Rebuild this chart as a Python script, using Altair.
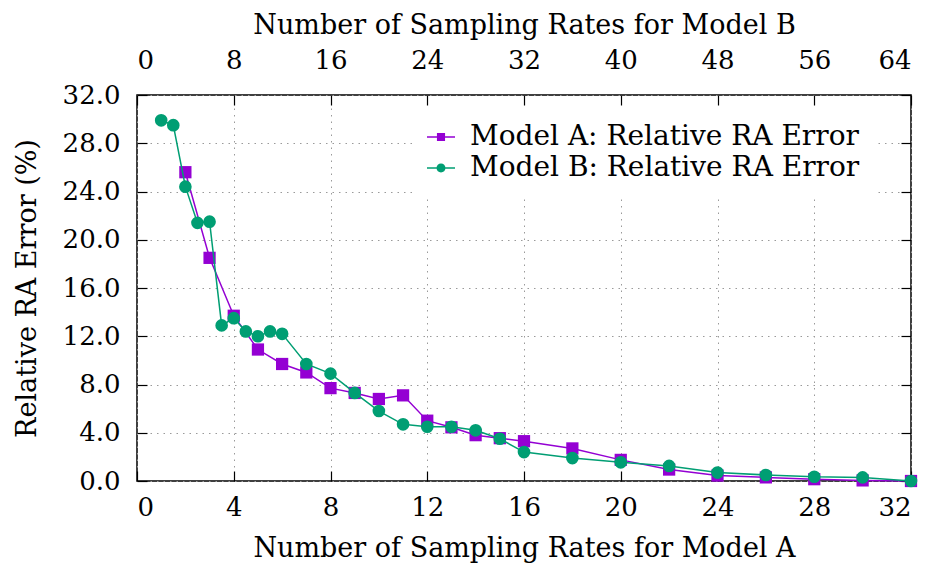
import altair as alt
import pandas as pd

# ---- data ----
a_rates = [2, 3, 4, 5, 6, 7, 8, 9, 10, 11, 12, 13, 14, 15, 16, 18, 20, 22, 24, 26, 28, 30, 32]
a_err = [25.6, 18.5, 13.7, 10.9, 9.7, 9.0, 7.7, 7.3, 6.8, 7.1, 5.0, 4.45, 3.8, 3.55, 3.3, 2.7,
         1.75, 0.95, 0.45, 0.3, 0.15, 0.05, 0.0]

b_rates = [2, 3, 4, 5, 6, 7, 8, 9, 10, 11, 12, 14, 16, 18, 20, 22, 24, 26, 28, 30, 32,
           36, 40, 44, 48, 52, 56, 60, 64]
b_err = [29.9, 29.5, 24.4, 21.4, 21.5, 12.9, 13.5, 12.4, 12.0, 12.4, 12.2, 9.7, 8.9, 7.3,
         5.8, 4.7, 4.5, 4.5, 4.2, 3.5, 2.4, 1.9, 1.55, 1.25, 0.7, 0.5, 0.35, 0.3, 0.0]

series_labels = ["Model A: Relative RA Error", "Model B: Relative RA Error"]
series_colors = ["#9400d3", "#009e73"]

x_a_ticks = list(range(0, 33, 4))
x_b_ticks = list(range(0, 65, 8))
y_ticks = list(range(0, 33, 4))

dfA = pd.DataFrame({"rate": a_rates, "err": a_err})
dfB = pd.DataFrame({"rate": b_rates, "err": b_err})
dfL = pd.DataFrame({"rate": [0, 0], "err": [0, 0], "series": series_labels})

FONT = "DejaVu Serif"
W, H = 774, 386
PURPLE, GREEN = series_colors

# legend symbols: a short line with the marker in the middle
SQ_PATH = "M-1,-0.055H1V0.055H-1Z M-0.29,-0.29H0.29V0.29H-0.29Z"
CI_PATH = ("M-1,-0.055H1V0.055H-1Z "
           "M-0.32,0A0.32,0.32 0 1,1 0.32,0A0.32,0.32 0 1,1 -0.32,0Z")

grid_kw = dict(grid=True, gridDash=[1.5, 5], gridColor="#9a9a9a", gridWidth=1)

xa = alt.X("rate:Q",
           scale=alt.Scale(domain=[0, 32], nice=False),
           axis=alt.Axis(orient="bottom", values=x_a_ticks, format="d",
                         title="Number of Sampling Rates for Model A",
                         offset=-10, tickSize=10, labelPadding=13, titlePadding=15,
                         domain=False, **grid_kw))
ya = alt.Y("err:Q",
           scale=alt.Scale(domain=[0, 32], nice=False),
           axis=alt.Axis(orient="left", values=y_ticks, format=".1f",
                         title="Relative RA Error (%)",
                         offset=-10, tickSize=10, labelPadding=17, titlePadding=21,
                         domain=False, **grid_kw))

xb = alt.X("rate:Q",
           scale=alt.Scale(domain=[0, 64], nice=False),
           axis=alt.Axis(orient="top", values=x_b_ticks, format="d",
                         title="Number of Sampling Rates for Model B",
                         offset=-10, tickSize=10, labelPadding=22, titlePadding=8,
                         domain=False, grid=False))
yb = alt.Y("err:Q",
           scale=alt.Scale(domain=[0, 32], nice=False),
           axis=alt.Axis(orient="right", values=y_ticks, labels=False, title=None,
                         offset=-10, tickSize=10, domain=False, grid=False))

legend = alt.Legend(orient="none", legendX=275, legendY=13, title=None,
                    labelFont=FONT, labelFontSize=28, labelLimit=700,
                    labelOffset=15, symbolSize=784, symbolStrokeWidth=0,
                    symbolOpacity=1, fillColor="white", padding=15, rowPadding=3)

lineA = alt.Chart(dfA).mark_line(color=PURPLE, strokeWidth=1.5).encode(x=xa, y=ya)
ptsA = alt.Chart(dfA).mark_point(shape="square", filled=True, size=150,
                                 color=PURPLE, opacity=1).encode(x=xa, y=ya)
legA = alt.Chart(dfL).mark_point(filled=True, opacity=0).encode(
    x=xa, y=ya,
    color=alt.Color("series:N", scale=alt.Scale(domain=series_labels, range=series_colors),
                    legend=legend),
    shape=alt.Shape("series:N", scale=alt.Scale(domain=series_labels, range=[SQ_PATH, CI_PATH]),
                    legend=legend),
)

lineB = alt.Chart(dfB).mark_line(color=GREEN, strokeWidth=1.5).encode(x=xb, y=yb)
ptsB = alt.Chart(dfB).mark_point(shape="circle", filled=True, size=160,
                                 color=GREEN, opacity=1).encode(x=xb, y=yb)

layerA = alt.layer(lineA, ptsA, legA)
layerB = alt.layer(lineB, ptsB)

chart = alt.layer(layerA, layerB).resolve_scale(
    x="independent", y="independent"
).properties(
    width=W, height=H,
    autosize=alt.AutoSizeParams(type="none"),
    padding={"left": 129, "top": 87, "right": 10, "bottom": 86},
).configure(
    font=FONT
).configure_view(
    stroke="black", strokeWidth=1.5
).configure_axis(
    labelFont=FONT, titleFont=FONT, labelFontSize=26, titleFontSize=27,
    titleFontWeight="normal", labelColor="black", titleColor="black",
    tickColor="black", tickWidth=1.2
).configure_legend(
    labelFont=FONT
)

chart.save("out.html", embed_options={"renderer": "svg", "actions": False})
